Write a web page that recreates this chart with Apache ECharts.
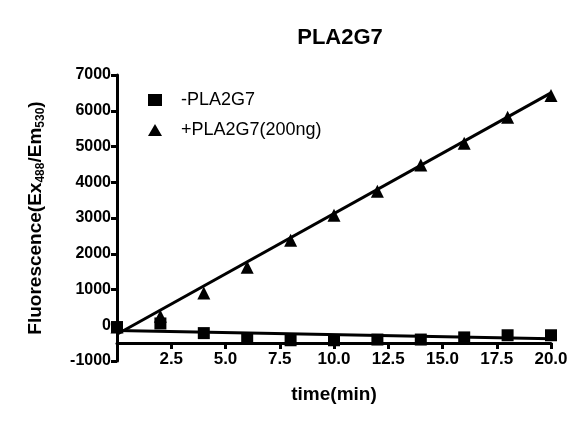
<!DOCTYPE html>
<html>
<head>
<meta charset="utf-8">
<script src="https://cdn.jsdelivr.net/npm/echarts@6/dist/echarts.min.js"></script>
<style>html,body{margin:0;background:#fff}#chart{width:586px;height:430px}</style>
</head>
<body>
<div id="chart"></div>
<script>
// data
var times = [0, 2, 4, 6, 8, 10, 12, 14, 16, 18, 20];
var minusVals = [-50, 50, -220, -360, -420, -420, -400, -400, -340, -280, -280];
var plusVals = [-50, 250, 900, 1620, 2380, 3080, 3750, 4480, 5090, 5820, 6430];
var minusFit = [[0, -150], [20, -380]];
var plusFit = [[0, -250], [20, 6500]];
var xTicks = [2.5, 5.0, 7.5, 10.0, 12.5, 15.0, 17.5, 20.0];

var font = 'Liberation Sans';
function pairs(v) { return times.map(function (t, i) { return [t, v[i]]; }); }

var chart = echarts.init(document.getElementById('chart'));
chart.setOption({
    animation: false,
    title: { text: 'PLA2G7', left: 335, top: 22, textAlign: 'center',
        textStyle: { fontFamily: font, fontSize: 22, fontWeight: 'bold', color: '#000' } },
    grid: { left: 117, right: 35, top: 75, bottom: 69 },
    legend: {
        orient: 'vertical', left: 143, top: 86, itemGap: 12, itemWidth: 14, itemHeight: 12,
        textStyle: { fontFamily: font, fontSize: 18, color: '#000', padding: [0, 0, 0, 14] },
        data: [{ name: '-PLA2G7', icon: 'rect' }, { name: '+PLA2G7(200ng)', icon: 'triangle' }]
    },
    xAxis: {
        type: 'value', min: 0, max: 20, interval: 2.5, offset: -18,
        name: 'time(min)', nameLocation: 'middle', nameGap: 42,
        nameTextStyle: { fontFamily: font, fontSize: 19, fontWeight: 'bold', color: '#000' },
        axisLine: { onZero: false, lineStyle: { color: '#000', width: 3 } },
        axisTick: { length: 6, lineStyle: { color: '#000', width: 3 } },
        axisLabel: { fontFamily: font, fontSize: 17, fontWeight: 'bold', color: '#000', margin: 8,
            formatter: function (v) { return xTicks.indexOf(v) >= 0 ? v.toFixed(1) : ''; } },
        splitLine: { show: false }
    },
    yAxis: {
        type: 'value', min: -1000, max: 7000, interval: 1000,
        name: '{a|Fluorescence(Ex}{s|488}{a|/Em}{s|530}{a|)}', nameLocation: 'middle', nameGap: 70,
        nameTextStyle: { rich: {
            a: { fontFamily: font, fontSize: 19, fontWeight: 'bold', color: '#000' },
            s: { fontFamily: font, fontSize: 12, fontWeight: 'bold', color: '#000', verticalAlign: 'bottom', padding: [10, 0, 0, 0] }
        } },
        axisLine: { show: true, lineStyle: { color: '#000', width: 3 } },
        axisTick: { show: true, length: 6, lineStyle: { color: '#000', width: 3 } },
        axisLabel: { fontFamily: font, fontSize: 16, fontWeight: 'bold', color: '#000', margin: 6,
            formatter: function (v) { return String(v); } },
        splitLine: { show: false }
    },
    series: [
        { name: '-PLA2G7', type: 'scatter', symbol: 'rect', symbolSize: 12, data: pairs(minusVals), itemStyle: { color: '#000', opacity: 1 } },
        { name: '+PLA2G7(200ng)', type: 'scatter', symbol: 'triangle', symbolSize: 13, data: pairs(plusVals), itemStyle: { color: '#000', opacity: 1 } },
        { type: 'line', data: minusFit, symbol: 'none', lineStyle: { color: '#000', width: 3 } },
        { type: 'line', data: plusFit, symbol: 'none', lineStyle: { color: '#000', width: 3 } }
    ]
});
</script>
</body>
</html>
